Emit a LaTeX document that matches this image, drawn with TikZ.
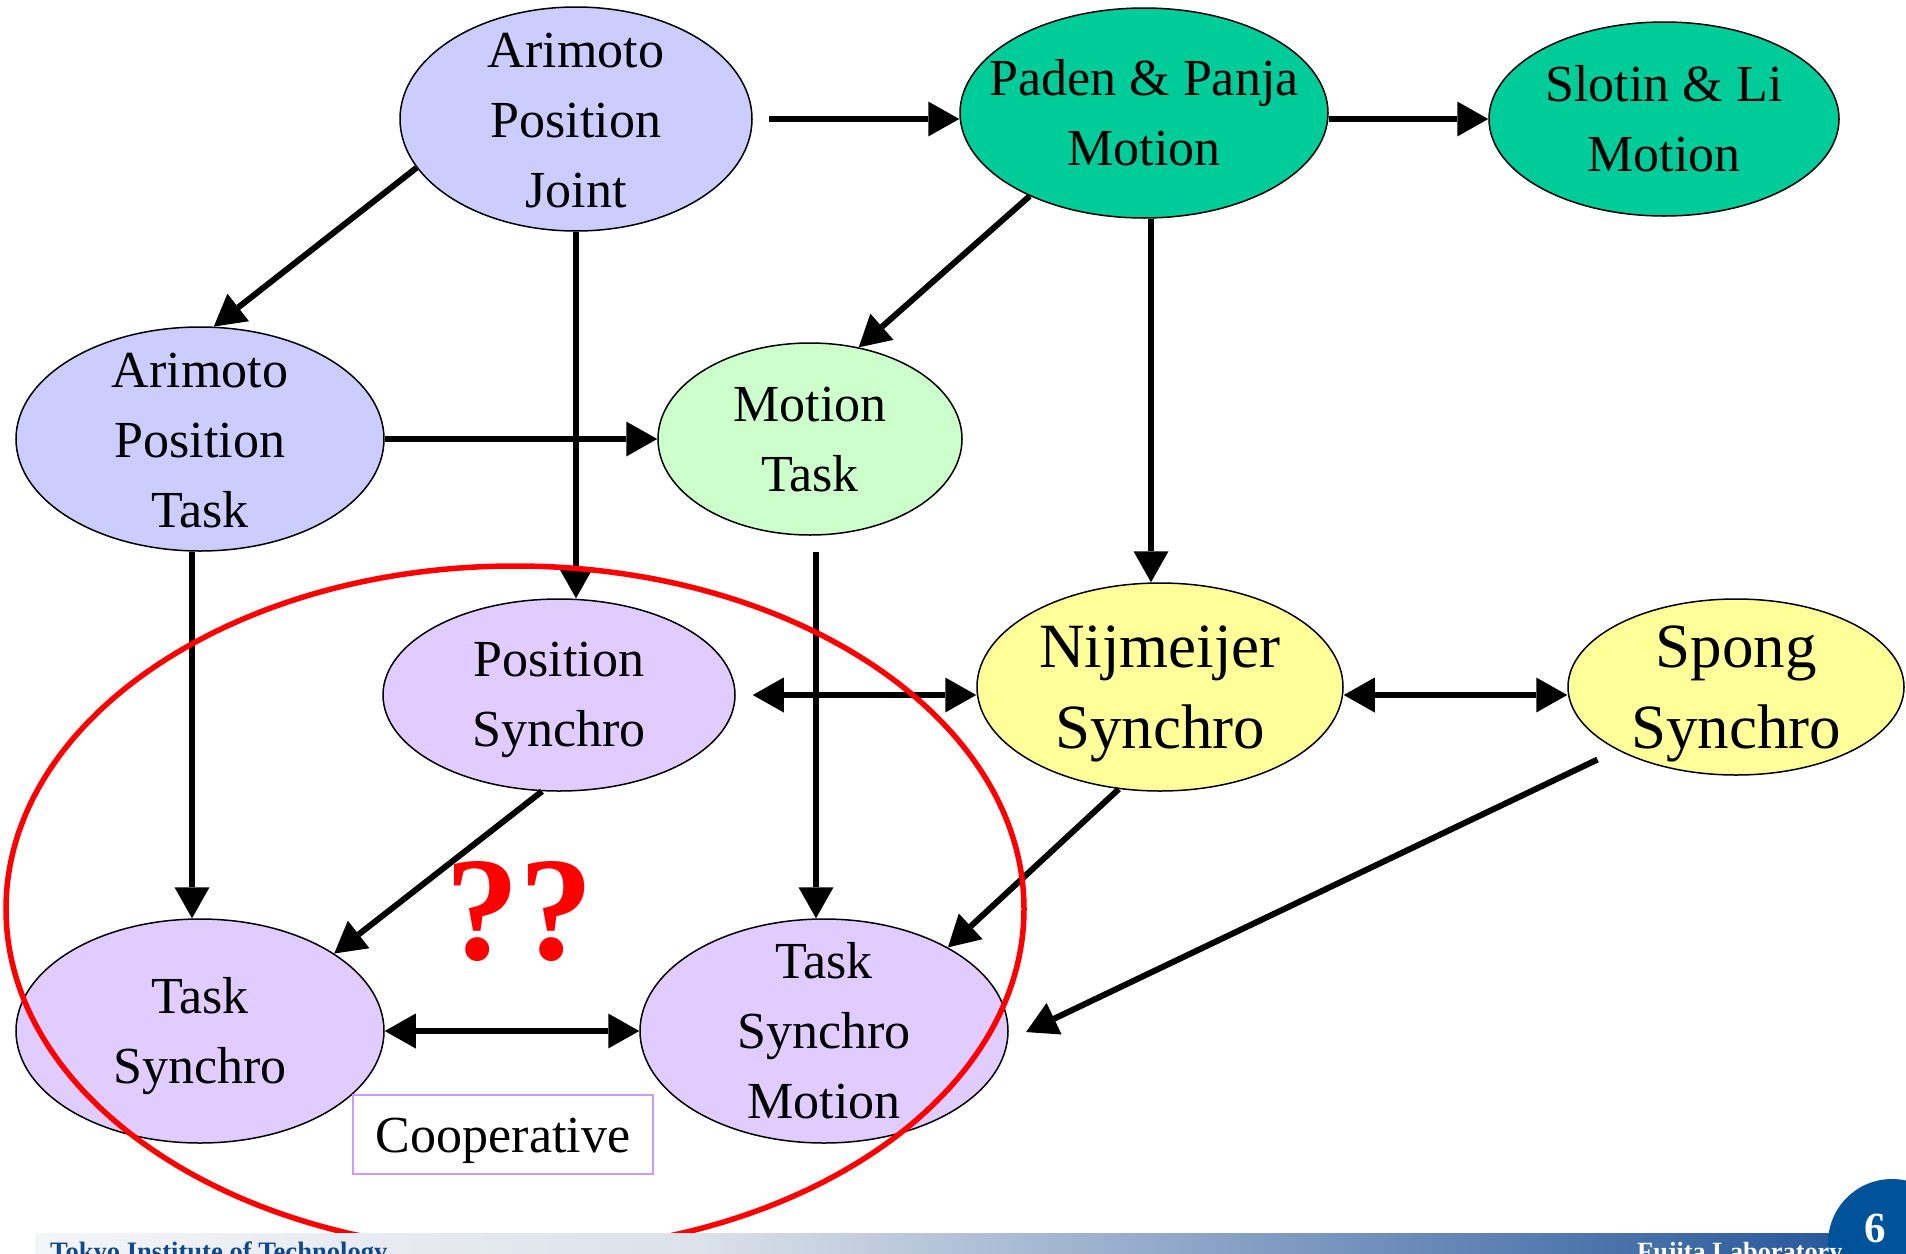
\documentclass[tikz,border=0pt]{standalone}
\usepackage{fontspec}
\setmainfont{Liberation Serif}
\usetikzlibrary{shapes.geometric,arrows.meta}
\definecolor{bluenode}{HTML}{CCCCFF}
\definecolor{greennode}{HTML}{00CC99}
\definecolor{lightgreen}{HTML}{CCFFCC}
\definecolor{purplenode}{HTML}{E0CCFF}
\definecolor{yellownode}{HTML}{FFFF99}
\definecolor{coopc}{HTML}{CC99FF}
\definecolor{footA}{HTML}{F4F5F8}
\definecolor{footB}{HTML}{DCE1EA}
\definecolor{footC}{HTML}{1C5096}
\definecolor{circc}{RGB}{0,82,155}
\definecolor{tokyoc}{RGB}{16,72,140}
\begin{document}
\begin{tikzpicture}[x=1pt,y=-1pt,
  ell/.style={ellipse, draw=black, line width=1.5pt, inner sep=0pt},
  lbl/.style={align=center, font=\fontsize{52}{70}\selectfont},
  biglbl/.style={align=center, yshift=-7pt, font=\fontsize{63}{81}\selectfont},
  tip/.tip={Triangle[length=31pt,width=35pt,line width=0pt]},
  arr/.style={line width=6pt, -tip},
  darr/.style={line width=6pt, tip-tip}]
\useasboundingbox (0,0) rectangle (1906,1253);
% nodes
\node[ell, fill=bluenode, minimum width=352pt, minimum height=224pt] (a1) at (576,119) {};
\node[ell, fill=greennode, minimum width=368pt, minimum height=210pt] (pp) at (1144,113) {};
\node[ell, fill=greennode, minimum width=350pt, minimum height=194pt] (sl) at (1664,119) {};
\node[ell, fill=bluenode, minimum width=368pt, minimum height=224pt] (at) at (200,439) {};
\node[ell, fill=lightgreen, minimum width=304pt, minimum height=192pt] (mt) at (810,439) {};
\node[ell, fill=purplenode, minimum width=352pt, minimum height=192pt] (ps) at (559,695) {};
\node[ell, fill=yellownode, minimum width=366pt, minimum height=208pt] (nj) at (1160,687) {};
\node[ell, fill=yellownode, minimum width=336pt, minimum height=176pt] (sp) at (1736,687) {};
\node[ell, fill=purplenode, minimum width=368pt, minimum height=224pt] (ts) at (200,1031) {};
\node[ell, fill=purplenode, minimum width=368pt, minimum height=224pt] (tsm) at (824,1031) {};
% texts
\node[lbl, yshift=-2pt] (a1t) at (a1) {Arimoto\\Position\\Joint};
\node[lbl] (ppt) at (pp) {Paden \& Panja\\Motion};
\node[lbl] (slt) at (sl) {Slotin \& Li\\Motion};
\node[lbl, yshift=-1.5pt] (att) at (at) {Arimoto\\Position\\Task};
\node[lbl, yshift=-1pt] (mtt) at (mt) {Motion\\Task};
\node[lbl, yshift=-5pt] (pst) at (ps) {Position\\Synchro};
\node[biglbl] (njt) at (nj) {Nijmeijer\\Synchro};
\node[biglbl] (spt) at (sp) {Spong\\Synchro};
\node[lbl, yshift=-5pt] (tst) at (ts) {Task\\Synchro};
\node[lbl] (tsmt) at (tsm) {Task\\Synchro\\Motion};
% arrows
\draw[arr] (a1.197) -- (at.83);
\draw[arr] (a1.south) -- (a1.south |- ps.north);
\draw[arr, shorten <=16pt] (a1.east) -- (a1.east -| pp.west);
\draw[arr] (sl.west -| pp.east) -- (sl.west);
\draw[arr] (pp.216) -- (mt.62);
\draw[arr] ([xshift=7pt]pp.south) -- ([xshift=7pt]pp.south |- nj.north);
\draw[arr] (at.east) -- (mt.west);
\draw[arr] ([xshift=-8pt]at.south) -- ([xshift=-8pt]ts.north);
\draw[arr, shorten <=16pt] ([xshift=6pt]mt.south) -- ([xshift=6pt]mt.south |- tsm.north);
\draw[darr, shorten <=17pt] (ps.east) -- (ps.east -| nj.west);
\draw[darr] ([yshift=-8pt]nj.east) -- ([yshift=-8pt]nj.east -| sp.west);
\draw[arr] (ps.260) -- (ts.30);
\draw[arr] (nj.248) -- (tsm.34);
\draw[arr, shorten <=22pt, shorten >=20pt] (sp.208) -- (tsm.357);
\draw[darr] (ts.east) -- (tsm.west);
% red ellipse and marks
\draw[red, line width=5.5pt] (515,909) ellipse [x radius=509, y radius=343];
\node[text=red, font=\bfseries\fontsize{148}{148}\selectfont, inner sep=0pt] (qq) at (519,912) {??};
\node[draw=coopc, line width=2pt, fill=white, minimum width=300pt, minimum height=79pt, inner sep=0pt] (coop) at (503,1134.5) {};
\node[font=\fontsize{52}{60}\selectfont, yshift=-6pt] (coopt) at (coop) {Cooperative};
% footer
\shade[left color=footA, right color=footB] (35,1233) rectangle (700,1253);
\shade[left color=footB, right color=footC] (700,1233) rectangle (1906,1253);
\fill[circc] (1892,1243) circle [radius=64];
\node[anchor=base west, inner sep=0pt, text=tokyoc, font=\bfseries\fontsize{26.6}{30}\selectfont] (tit) at (50,1260) {Tokyo Institute of Technology};
\node[anchor=base west, inner sep=0pt, text=white, font=\bfseries\fontsize{26.3}{30}\selectfont] (fuj) at (1637,1260) {Fujita Laboratory};
\node[text=white, inner sep=0pt, font=\bfseries\fontsize{43}{43}\selectfont] (pg) at (1875,1228) {6};
\end{tikzpicture}
\end{document}
